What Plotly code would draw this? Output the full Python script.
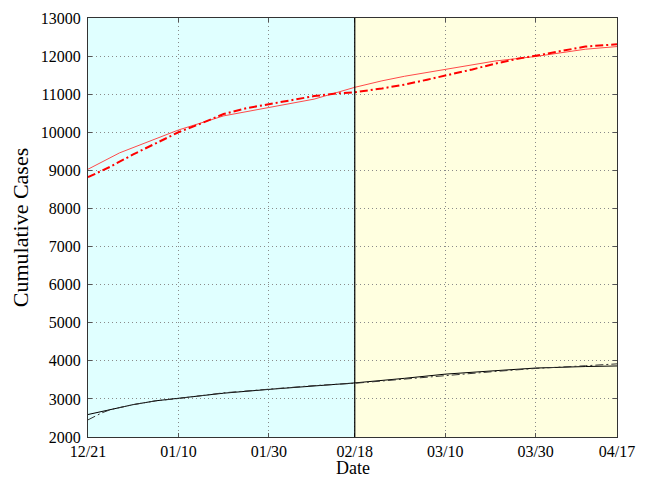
import plotly.graph_objects as go
import pandas as pd

start = pd.Timestamp("2020-12-21")

# day offsets from 12/21
red_fit_days = [0, 7, 20, 30, 40, 50, 59, 65, 70, 79, 85, 90, 99, 105, 110, 117]
red_fit_vals = [9030, 9460, 10060, 10430, 10650, 10870, 11180, 11350, 11470, 11650, 11780, 11870, 11990, 12100, 12180, 12250]

red_act_days = [0, 5, 10, 15, 20, 25, 30, 35, 40, 45, 50, 55, 59, 65, 70, 75, 79, 85, 90, 95, 99, 105, 110, 117]
red_act_vals = [8820, 9100, 9420, 9720, 10000, 10230, 10480, 10630, 10740, 10850, 10950, 11020, 11050, 11150, 11250, 11380, 11480, 11650, 11800, 11930, 12010, 12150, 12250, 12310]

blk_fit_days = [0, 5, 10, 15, 20, 30, 40, 50, 59, 70, 79, 90, 99, 110, 117]
blk_fit_vals = [2590, 2720, 2850, 2950, 3015, 3150, 3250, 3340, 3420, 3540, 3650, 3740, 3810, 3850, 3865]

blk_act_days = [0, 3, 5, 10, 15, 20, 30, 40, 50, 59, 70, 79, 90, 99, 110, 117]
blk_act_vals = [2450, 2630, 2720, 2850, 2950, 3010, 3160, 3260, 3350, 3410, 3510, 3610, 3720, 3800, 3870, 3920]

tick_dates = ["2020-12-21", "2021-01-10", "2021-01-30", "2021-02-18", "2021-03-10", "2021-03-30", "2021-04-17"]
tick_labels = ["12/21", "01/10", "01/30", "02/18", "03/10", "03/30", "04/17"]
split_date = "2021-02-18"
end_date = "2021-04-17"


def to_dates(days):
    return [start + pd.Timedelta(days=d) for d in days]


fig = go.Figure()
fig.add_trace(go.Scatter(x=to_dates(red_fit_days), y=red_fit_vals, mode="lines",
                         line=dict(color="#ff4a4a", width=1)))
fig.add_trace(go.Scatter(x=to_dates(red_act_days), y=red_act_vals, mode="lines",
                         line=dict(color="#ff0000", width=2, dash="8px,3px,2px,3px")))
fig.add_trace(go.Scatter(x=to_dates(blk_fit_days), y=blk_fit_vals, mode="lines",
                         line=dict(color="#000000", width=1)))
fig.add_trace(go.Scatter(x=to_dates(blk_act_days), y=blk_act_vals, mode="lines",
                         line=dict(color="#333333", width=1, dash="8px,3px,2px,3px")))

fig.add_shape(type="rect", xref="x", yref="paper", x0=tick_dates[0], x1=split_date, y0=0, y1=1,
              fillcolor="#e0ffff", line=dict(width=0), layer="below")
fig.add_shape(type="rect", xref="x", yref="paper", x0=split_date, x1=end_date, y0=0, y1=1,
              fillcolor="#ffffe0", line=dict(width=0), layer="below")
fig.add_shape(type="line", xref="x", yref="paper", x0=split_date, x1=split_date, y0=0, y1=1,
              line=dict(color="black", width=1.2))

font = "Liberation Serif, Times New Roman, serif"

# x-axis title as an annotation so it stays inside the page
fig.add_annotation(text="Date", xref="paper", yref="paper", x=0.5, y=0,
                   yshift=-31, yanchor="middle", showarrow=False,
                   font=dict(family=font, size=18, color="black"))

fig.update_layout(
    width=629, height=469,
    margin=dict(l=80, r=20, t=10, b=40),
    paper_bgcolor="white", plot_bgcolor="white",
    showlegend=False,
    font=dict(family=font, size=16, color="black"),
    xaxis=dict(
        type="date", range=[tick_dates[0], end_date],
        tickvals=tick_dates, ticktext=tick_labels,
        showgrid=True, gridcolor="#8a8a8a", griddash="1px,3px", gridwidth=1,
        showline=True, linecolor="#333333", linewidth=1, mirror="ticks",
        ticks="inside", ticklen=4, tickcolor="#555555",
        zeroline=False, automargin=False,
    ),
    yaxis=dict(
        range=[2000, 13000], dtick=1000, tick0=2000, tickformat="d",
        showgrid=True, gridcolor="#8a8a8a", griddash="1px,3px", gridwidth=1,
        showline=True, linecolor="#333333", linewidth=1, mirror="ticks",
        ticks="inside", ticklen=4, tickcolor="#555555", ticklabelstandoff=3,
        title=dict(text="Cumulative Cases", font=dict(size=22), standoff=6),
        zeroline=False, automargin=False,
    ),
)

fig.write_html("out.html")
